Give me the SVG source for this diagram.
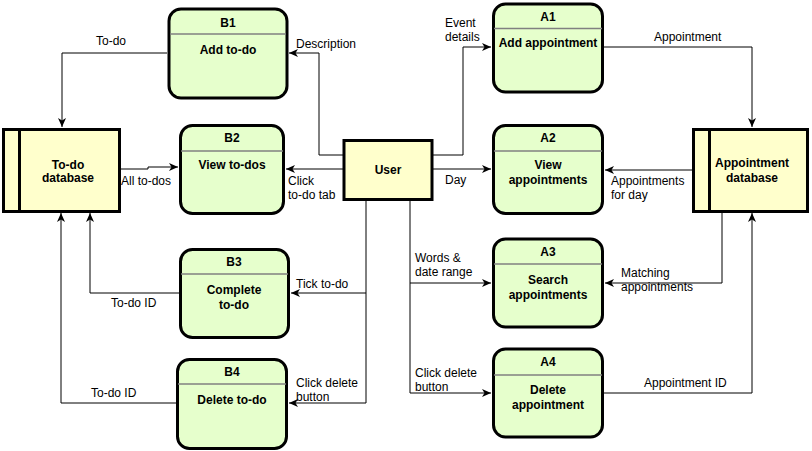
<svg xmlns="http://www.w3.org/2000/svg" width="812" height="451" viewBox="0 0 812 451">
<style>
.proc{fill:#E6FFCC;stroke:#000;stroke-width:3}
.store{fill:#FFFFCC;stroke:#000;stroke-width:3}
.sep{stroke:#808080;stroke-width:1.5}
.t{font-family:"Liberation Sans",Arial,sans-serif;font-size:12px;font-weight:bold;text-anchor:middle;fill:#000}
.l{font-family:"Liberation Sans",Arial,sans-serif;font-size:12px;fill:#000}
.c{fill:none;stroke:#000;stroke-width:1}
</style>
<defs>
<marker id="arr" markerUnits="userSpaceOnUse" markerWidth="10" markerHeight="10" refX="9" refY="4" orient="auto">
<path d="M0,0 L9,4 L0,8 L2.5,4 Z" fill="#000"/>
</marker>
</defs>
<rect width="812" height="451" fill="#fff"/>
<g id="connectors">
<path class="c" d="M167,53 H62 V127" marker-end="url(#arr)"/>
<path class="c" d="M120,169 H148 V167 H178" marker-end="url(#arr)"/>
<path class="c" d="M179,293 H90 V213" marker-end="url(#arr)"/>
<path class="c" d="M176,403 H61 V213" marker-end="url(#arr)"/>
<path class="c" d="M343,155 H319 V53 H289" marker-end="url(#arr)"/>
<path class="c" d="M343,169 H286" marker-end="url(#arr)"/>
<path class="c" d="M432,155 H463 V47 H491" marker-end="url(#arr)"/>
<path class="c" d="M432,169 H491" marker-end="url(#arr)"/>
<path class="c" d="M366,201 V403 H289" marker-end="url(#arr)"/>
<path class="c" d="M366,293 H291" marker-end="url(#arr)"/>
<path class="c" d="M410,201 V393 H491" marker-end="url(#arr)"/>
<path class="c" d="M410,283 H491" marker-end="url(#arr)"/>
<path class="c" d="M604,47 H752 V127" marker-end="url(#arr)"/>
<path class="c" d="M692,170 H605" marker-end="url(#arr)"/>
<path class="c" d="M722,213 V283 H605" marker-end="url(#arr)"/>
<path class="c" d="M604,393 H752 V213" marker-end="url(#arr)"/>
</g>
<g id="labels">
<text class="l" x="96" y="45">To-do</text>
<text class="l" x="296" y="48">Description</text>
<text class="l" x="121" y="185">All to-dos</text>
<text class="l" x="288" y="185">Click</text>
<text class="l" x="288" y="199">to-do tab</text>
<text class="l" x="445" y="27">Event</text>
<text class="l" x="445" y="41">details</text>
<text class="l" x="445" y="184">Day</text>
<text class="l" x="654" y="41">Appointment</text>
<text class="l" x="611" y="185">Appointments</text>
<text class="l" x="611" y="199">for day</text>
<text class="l" x="296" y="288">Tick to-do</text>
<text class="l" x="296" y="387">Click delete</text>
<text class="l" x="296" y="401">button</text>
<text class="l" x="415" y="262">Words &amp;</text>
<text class="l" x="415" y="276">date range</text>
<text class="l" x="415" y="377">Click delete</text>
<text class="l" x="415" y="391">button</text>
<text class="l" x="621" y="277">Matching</text>
<text class="l" x="621" y="291">appointments</text>
<text class="l" x="644" y="387">Appointment ID</text>
<text class="l" x="111" y="307">To-do ID</text>
<text class="l" x="91" y="397">To-do ID</text>
</g>
<g id="todo-db">
<rect class="store" x="3.5" y="129.5" width="116" height="82"/>
<line x1="19.5" y1="129.5" x2="19.5" y2="211.5" stroke="#000" stroke-width="3"/>
<text class="t" x="68" y="169">To-do</text>
<text class="t" x="68" y="182">database</text>
</g>
<g id="appt-db">
<rect class="store" x="693.5" y="129.5" width="114" height="82"/>
<line x1="709.5" y1="129.5" x2="709.5" y2="211.5" stroke="#000" stroke-width="3"/>
<text class="t" x="752" y="167">Appointment</text>
<text class="t" x="752" y="182">database</text>
</g>
<g id="user">
<rect class="store" x="344" y="140.5" width="88" height="59"/>
<text class="t" x="388" y="174">User</text>
</g>
<g id="B1">
<rect class="proc" x="169" y="9" width="118" height="89" rx="12"/>
<line class="sep" x1="170" y1="34" x2="286" y2="34"/>
<text class="t" x="228" y="27">B1</text>
<text class="t" x="228" y="54">Add to-do</text>
</g>
<g id="B2">
<rect class="proc" x="180.5" y="125.5" width="103" height="88" rx="12"/>
<line class="sep" x1="181" y1="151" x2="283" y2="151"/>
<text class="t" x="232" y="142">B2</text>
<text class="t" x="232" y="169">View to-dos</text>
</g>
<g id="B3">
<rect class="proc" x="180.5" y="249.5" width="108" height="88" rx="12"/>
<line class="sep" x1="181" y1="274" x2="288" y2="274"/>
<text class="t" x="234" y="266">B3</text>
<text class="t" x="234" y="294">Complete</text>
<text class="t" x="234" y="309">to-do</text>
</g>
<g id="B4">
<rect class="proc" x="177.5" y="359.5" width="109" height="89" rx="12"/>
<line class="sep" x1="178" y1="384" x2="286" y2="384"/>
<text class="t" x="232" y="376">B4</text>
<text class="t" x="232" y="404">Delete to-do</text>
</g>
<g id="A1">
<rect class="proc" x="493.5" y="4" width="109" height="88" rx="12"/>
<line class="sep" x1="494" y1="28.5" x2="602" y2="28.5"/>
<text class="t" x="548" y="21">A1</text>
<text class="t" x="548" y="47">Add appointment</text>
</g>
<g id="A2">
<rect class="proc" x="493.5" y="125.5" width="109" height="88" rx="12"/>
<line class="sep" x1="494" y1="151" x2="602" y2="151"/>
<text class="t" x="548" y="142">A2</text>
<text class="t" x="548" y="169">View</text>
<text class="t" x="548" y="184">appointments</text>
</g>
<g id="A3">
<rect class="proc" x="493.5" y="239" width="109" height="88" rx="12"/>
<line class="sep" x1="494" y1="264" x2="602" y2="264"/>
<text class="t" x="548" y="256">A3</text>
<text class="t" x="548" y="284">Search</text>
<text class="t" x="548" y="299">appointments</text>
</g>
<g id="A4">
<rect class="proc" x="493.5" y="349" width="109" height="88" rx="12"/>
<line class="sep" x1="494" y1="375" x2="602" y2="375"/>
<text class="t" x="548" y="366">A4</text>
<text class="t" x="548" y="394">Delete</text>
<text class="t" x="548" y="409">appointment</text>
</g>
</svg>
